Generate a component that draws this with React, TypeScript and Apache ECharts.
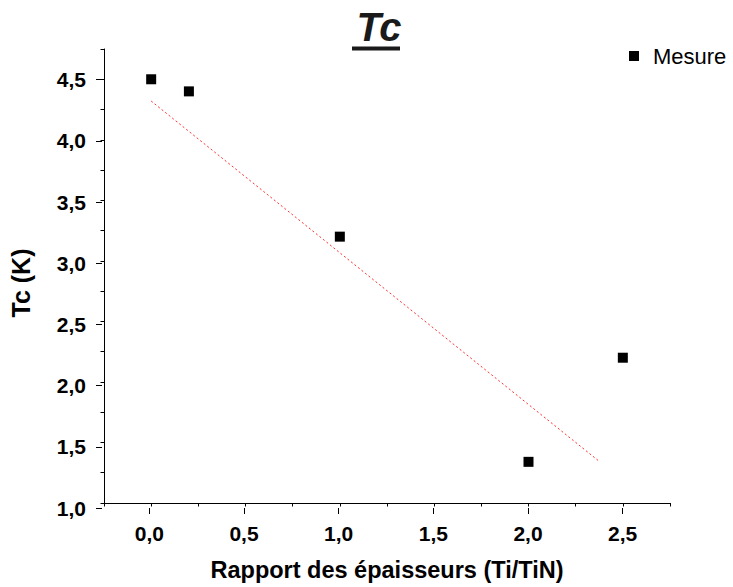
import React, { useEffect, useRef } from 'react';
import * as echarts from 'echarts';

const measureX = [0, 0.2, 1.0, 2.0, 2.5];
const measureY = [4.5, 4.4, 3.2, 1.34, 2.2];
const fitX = [0, 2.37];
const fitY = [4.32, 1.35];
// full axis ranges (minor ticks every 0.25)
const xRange = [-0.25, 2.75];
const yRange = [1.0, 4.75];
// labelled (major) tick ranges, step 0.5
const xMajorRange = [0, 2.5];
const yMajorRange = [1.0, 4.5];
const minorStep = 0.25;
const majorStep = 0.5;

const FONT = "'Liberation Sans', Arial, sans-serif";
const fmt = (v: number) => v.toFixed(1).replace('.', ',');

export default function App() {
  const ref = useRef<HTMLDivElement>(null);
  useEffect(() => {
    if (!ref.current) return;
    const chart = echarts.init(ref.current, null, { renderer: 'svg' });

    const W = 733;
    const H = 587;
    const g = { left: 102, right: 63, top: 49, bottom: 79 };
    const pxX = (W - g.left - g.right) / (xRange[1] - xRange[0]);
    const pxY = (H - g.top - g.bottom) / (yRange[1] - yRange[0]);
    const dxL = (xMajorRange[0] - xRange[0]) * pxX;
    const dxR = (xRange[1] - xMajorRange[1]) * pxX;
    const dyT = (yRange[1] - yMajorRange[1]) * pxY;
    const g2 = { left: g.left + dxL, right: g.right + dxR, top: g.top + dyT, bottom: g.bottom };

    const labelStyle = {
      formatter: fmt,
      fontSize: 21,
      fontWeight: 'bold' as const,
      color: '#000',
      fontFamily: FONT,
    };

    chart.setOption({
      animation: false,
      backgroundColor: '#ffffff',
      grid: [
        { ...g, containLabel: false },
        { ...g2, containLabel: false },
      ],
      graphic: [
        {
          type: 'text',
          x: 379,
          y: 27,
          style: {
            text: 'Tc',
            fontSize: 40,
            fontWeight: 'bold',
            fontStyle: 'italic',
            fontFamily: FONT,
            fill: '#1a1a1a',
            align: 'center',
            verticalAlign: 'middle',
          },
        },
        {
          type: 'rect',
          shape: { x: 352, y: 46.5, width: 48, height: 4 },
          style: { fill: '#1a1a1a' },
        },
      ],
      legend: {
        data: ['Mesure'],
        left: 624,
        top: 40,
        icon: 'rect',
        itemWidth: 10,
        itemHeight: 10,
        itemStyle: { opacity: 1, color: '#000' },
        textStyle: { fontSize: 22, color: '#000', fontFamily: FONT, padding: [0, 0, 0, 9] },
      },
      xAxis: [
        {
          type: 'value',
          gridIndex: 0,
          min: xRange[0],
          max: xRange[1],
          interval: minorStep,
          position: 'bottom',
          splitLine: { show: false },
          axisLine: { show: true, onZero: false, lineStyle: { color: '#000', width: 1 } },
          axisTick: { show: true, length: 3.5, lineStyle: { color: '#000', width: 1 } },
          axisLabel: { show: false },
          name: 'Rapport des épaisseurs (Ti/TiN)',
          nameLocation: 'middle',
          nameGap: 55,
          nameTextStyle: { fontSize: 23.5, fontWeight: 'bold', color: '#000', fontFamily: FONT },
        },
        {
          type: 'value',
          gridIndex: 1,
          min: xMajorRange[0],
          max: xMajorRange[1],
          interval: majorStep,
          position: 'bottom',
          splitLine: { show: false },
          axisLine: { show: false, onZero: false },
          axisTick: { show: true, length: 6, lineStyle: { color: '#000', width: 1 } },
          axisLabel: { ...labelStyle, margin: 15 },
        },
      ],
      yAxis: [
        {
          type: 'value',
          gridIndex: 0,
          min: yRange[0],
          max: yRange[1],
          interval: minorStep,
          position: 'left',
          splitLine: { show: false },
          axisLine: { show: true, onZero: false, lineStyle: { color: '#000', width: 1 } },
          axisTick: { show: true, length: 3.5, lineStyle: { color: '#000', width: 1 } },
          axisLabel: { show: false },
          name: 'Tc (K)',
          nameLocation: 'middle',
          nameGap: 71,
          nameTextStyle: {
            fontSize: 25,
            fontWeight: 'bold',
            color: '#000',
            fontFamily: FONT,
            padding: [0, 14, 0, 0],
          },
        },
        {
          type: 'value',
          gridIndex: 1,
          min: yMajorRange[0],
          max: yMajorRange[1],
          interval: majorStep,
          position: 'left',
          offset: dxL,
          splitLine: { show: false },
          axisLine: { show: false, onZero: false },
          axisTick: { show: true, length: 6, lineStyle: { color: '#000', width: 1 } },
          axisLabel: { ...labelStyle, margin: 16 },
        },
      ],
      series: [
        {
          name: 'Mesure',
          type: 'scatter',
          xAxisIndex: 0,
          yAxisIndex: 0,
          data: measureX.map((x, i) => [x, measureY[i]]),
          symbol: 'rect',
          symbolSize: 10,
          itemStyle: { color: '#000', opacity: 1 },
        },
        {
          name: 'Fit',
          type: 'line',
          xAxisIndex: 0,
          yAxisIndex: 0,
          data: fitX.map((x, i) => [x, fitY[i]]),
          showSymbol: false,
          symbol: 'none',
          silent: true,
          lineStyle: { color: '#ff3030', width: 1, type: [2, 2.5] },
        },
      ],
    });
    return () => chart.dispose();
  }, []);
  return (
    <div
      ref={ref}
      style={{ position: 'fixed', left: 0, top: 0, width: 733, height: 587, background: '#fff' }}
    />
  );
}
